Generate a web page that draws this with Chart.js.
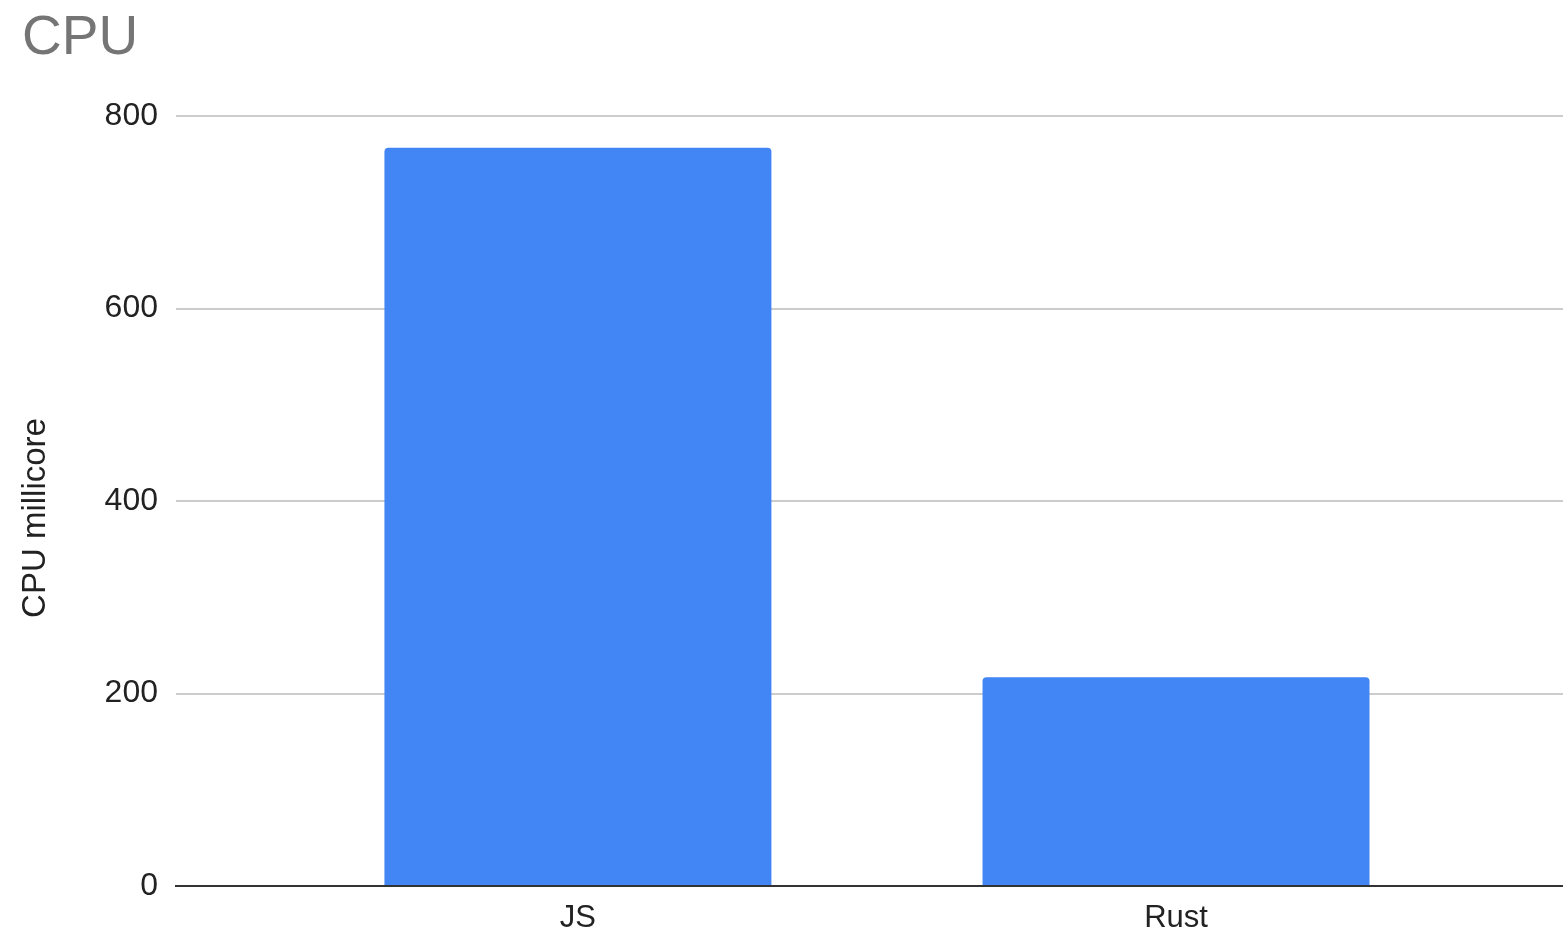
<!DOCTYPE html>
<html lang="en">
<head>
  <meta charset="UTF-8">
  <title>CPU</title>
  <script src="https://cdn.jsdelivr.net/npm/chart.js"></script>
  <style>
    html, body { margin: 0; padding: 0; background: #fff; }
    .chart-container { position: relative; width: 1563px; height: 938px; }
  </style>
</head>
<body>
  <div class="chart-container">
    <canvas id="cpuChart"></canvas>
  </div>

  <script>
    // CPU usage per implementation (millicores)
    const categories = ['JS', 'Rust'];
    const cpuValues = [767, 217];
    const yTicks = [0, 200, 400, 600, 800];
    const yAxisTitle = 'CPU millicore';

    const fontFamily = '"Liberation Sans", Arial, sans-serif';

    // bars sit at x = 1, 2 on a linear axis so the plot can extend past them
    const points = cpuValues.map((v, i) => ({ x: i + 1, y: v }));

    // vertical axis title, placed a bit below the plot's middle
    const axisTitlePlugin = {
      id: 'axisTitle',
      afterDraw(chart) {
        const c = chart.ctx;
        c.save();
        c.translate(36, 518);
        c.rotate(-Math.PI / 2);
        c.font = '33px ' + fontFamily;
        c.fillStyle = '#222';
        c.textAlign = 'center';
        c.textBaseline = 'middle';
        c.fillText(yAxisTitle, 0, 0);
        c.restore();
      }
    };

    const ctx = document.getElementById('cpuChart').getContext('2d');
    new Chart(ctx, {
      type: 'bar',
      data: {
        datasets: [{
          label: yAxisTitle,
          data: points,
          backgroundColor: '#4285F4',
          borderWidth: 0,
          borderRadius: { topLeft: 4, topRight: 4, bottomLeft: 0, bottomRight: 0 },
          borderSkipped: 'bottom',
          categoryPercentage: 1,
          barPercentage: 0.647
        }]
      },
      plugins: [axisTitlePlugin],
      options: {
        responsive: true,
        maintainAspectRatio: false,
        animation: false,
        layout: { padding: { left: 22, right: 0, top: 0, bottom: 2 } },
        plugins: {
          legend: { display: false },
          tooltip: { enabled: false },
          title: {
            display: true,
            text: 'CPU',
            align: 'start',
            color: '#757575',
            font: { family: fontFamily, size: 55, weight: 'normal' },
            padding: { top: 6, bottom: 44 }
          }
        },
        scales: {
          x: {
            type: 'linear',
            offset: false,
            min: 0.328,
            max: 2.647,
            afterBuildTicks: scale => {
              scale.ticks = categories.map((c, i) => ({ value: i + 1 }));
            },
            afterFit: scale => { scale.height = 50; },
            ticks: {
              color: '#222',
              font: { family: fontFamily, size: 31 },
              padding: 14,
              maxRotation: 0,
              callback: v => categories[v - 1]
            },
            grid: { display: false, drawTicks: false },
            border: { display: true, color: '#333', width: 2 }
          },
          y: {
            min: 0,
            max: 800,
            afterBuildTicks: scale => {
              scale.ticks = yTicks.map(v => ({ value: v }));
            },
            afterFit: scale => { scale.width = 154; },
            ticks: {
              color: '#222',
              font: { family: fontFamily, size: 32 },
              padding: 18
            },
            grid: {
              drawTicks: false,
              lineWidth: 2,
              color: c => c.tick && c.tick.value === 0 ? 'rgba(0,0,0,0)' : '#ccc'
            },
            border: { display: false }
          }
        }
      }
    });
  </script>
</body>
</html>
